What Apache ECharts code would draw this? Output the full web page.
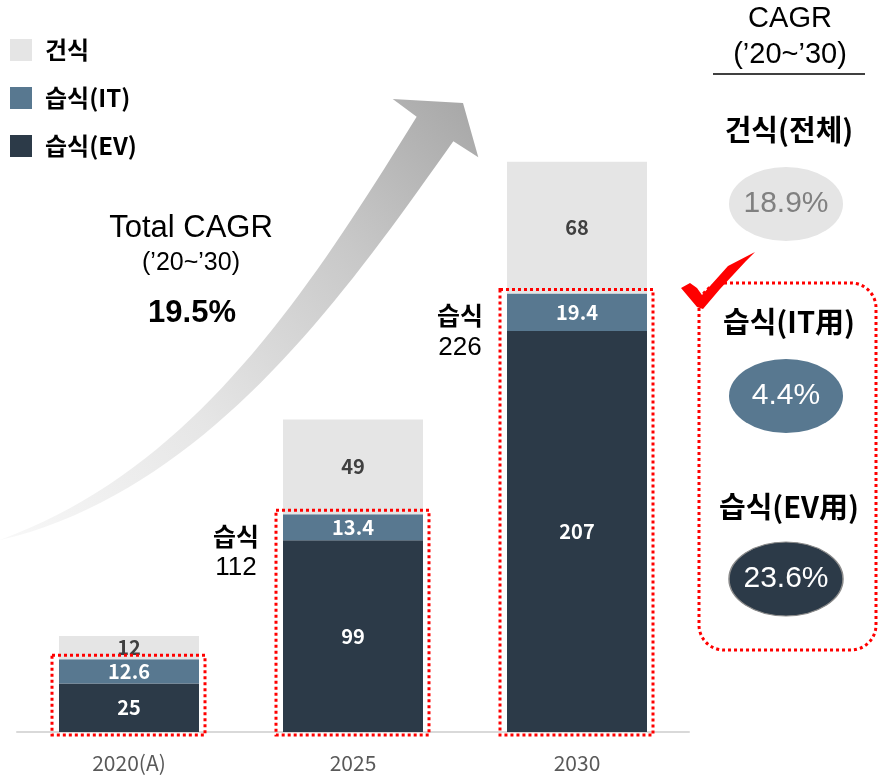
<!DOCTYPE html>
<html>
<head>
<meta charset="utf-8">
<script src="https://cdn.jsdelivr.net/npm/echarts@6/dist/echarts.min.js"></script>
<style>
html, body { margin: 0; padding: 0; background: #fff; }
#chart { width: 878px; height: 775px; }
</style>
</head>
<body>
<div id="chart"></div>
<script>
// 데이터
var categories = ['2020(A)', '2025', '2030'];
var wetEv = [25, 99, 207];
var wetIt = [12.6, 13.4, 19.4];
var dry = [12, 49, 68];
var totals = ['49.5', '161.1', '294.2'];
var wetTotals = ['', '112', '226'];
var cagrNames = ['건식(전체)', '습식(IT用)', '습식(EV用)'];
var cagrValues = ['18.9%', '4.4%', '23.6%'];

var KR = '"Noto Sans CJK KR", sans-serif';
var LAT = '"Liberation Sans", Arial, sans-serif';
var C_DRY = '#e5e5e5', C_IT = '#587890', C_EV = '#2c3a48';

var stackTop = categories.map(function (c, i) { return wetEv[i] + wetIt[i] + dry[i]; });

var chart = echarts.init(document.getElementById('chart'));

function barLabel(color) {
    return {
        show: true, position: 'inside', color: color,
        fontSize: 20, fontWeight: 'bold', fontFamily: KR
    };
}

var option = {
    animation: false,
    legend: {
        orient: 'vertical', left: 5, top: 33, itemWidth: 22, itemHeight: 22, itemGap: 24,
        icon: 'rect', selectedMode: false,
        data: ['건식', '습식(IT)', '습식(EV)'],
        textStyle: { fontSize: 24, fontWeight: 'bold', color: '#000', fontFamily: KR, padding: [0, 0, 0, 8] }
    },
    grid: { left: 17, right: 189, top: 151, bottom: 43 },
    xAxis: {
        type: 'category', data: categories,
        axisLine: { lineStyle: { color: '#d9d9d9', width: 2 } },
        axisTick: { show: false },
        axisLabel: { color: '#595959', fontSize: 21, fontFamily: KR, margin: 21 }
    },
    yAxis: { type: 'value', min: 0, max: 300, show: false, splitLine: { show: false } },
    series: [
        { name: '습식(EV)', type: 'bar', stack: 'a', barWidth: 140, data: wetEv,
          itemStyle: { color: C_EV }, label: barLabel('#fff'), z: 3 },
        { name: '습식(IT)', type: 'bar', stack: 'a', barWidth: 140, data: wetIt,
          itemStyle: { color: C_IT }, label: barLabel('#fff'), z: 3 },
        { name: '건식', type: 'bar', stack: 'a', barWidth: 140, data: dry,
          itemStyle: { color: C_DRY }, label: barLabel('#404040'), z: 3 },
        { name: 'sum', type: 'scatter', data: stackTop, symbolSize: 1, itemStyle: { opacity: 0 }, silent: true,
          label: {
              show: true, position: 'top', distance: 15, color: '#000', fontSize: 31, fontFamily: LAT,
              formatter: function (p) { return 'Σ ' + totals[p.dataIndex]; }
          } }
    ]
};
chart.setOption(option);

// 화살표 (곡선)
function arrowPoints() {
    var P0 = [0, 540], P1 = [200, 480], P2 = [325, 295], P3 = [435, 129];
    var upper = [], lower = [];
    for (var k = 0; k <= 40; k++) {
        var t = k / 40, u = 1 - t;
        var x = u*u*u*P0[0] + 3*u*u*t*P1[0] + 3*u*t*t*P2[0] + t*t*t*P3[0];
        var y = u*u*u*P0[1] + 3*u*u*t*P1[1] + 3*u*t*t*P2[1] + t*t*t*P3[1];
        var dx = 3*u*u*(P1[0]-P0[0]) + 6*u*t*(P2[0]-P1[0]) + 3*t*t*(P3[0]-P2[0]);
        var dy = 3*u*u*(P1[1]-P0[1]) + 6*u*t*(P2[1]-P1[1]) + 3*t*t*(P3[1]-P2[1]);
        var len = Math.sqrt(dx*dx + dy*dy);
        var nx = -dy / len, ny = dx / len;
        var w = 22 * Math.pow(t, 0.8);
        upper.push([x - nx*w, y - ny*w]);
        lower.push([x + nx*w, y + ny*w]);
    }
    var pts = upper.concat([[392.7, 99], [463, 103], [478.3, 157.3]]);
    return pts.concat(lower.reverse());
}

var graphics = [];
graphics.push({
    type: 'polygon', z: 0, silent: true,
    shape: { points: arrowPoints() },
    style: {
        fill: { type: 'linear', x: 0, y: 1, x2: 1, y2: 0, colorStops: [
            { offset: 0, color: '#f8f8f8' }, { offset: 0.35, color: '#e6e6e6' },
            { offset: 0.7, color: '#c8c8c8' }, { offset: 1, color: '#a6a6a6' }] }
    }
});

// Total CAGR 텍스트
graphics.push({ type: 'text', x: 191, y: 228, style: { text: 'Total CAGR', font: '31px ' + LAT, fill: '#000', align: 'center', verticalAlign: 'middle' } });
graphics.push({ type: 'text', x: 191, y: 263, style: { text: '(’20~’30)', font: '25px ' + LAT, fill: '#000', align: 'center', verticalAlign: 'middle' } });
graphics.push({ type: 'text', x: 192, y: 313, style: { text: '19.5%', font: 'bold 31px ' + LAT, fill: '#000', align: 'center', verticalAlign: 'middle',
    shadowColor: 'rgba(0,0,0,0.35)', shadowBlur: 3, shadowOffsetX: 2, shadowOffsetY: 2 } });

// 습식 빨간 점선 박스 및 합계
categories.forEach(function (c, i) {
    var base = chart.convertToPixel({ seriesIndex: 0 }, [i, 0]);
    var itTop = chart.convertToPixel({ seriesIndex: 0 }, [i, wetEv[i] + wetIt[i]]);
    var left = base[0] - 70;
    graphics.push({
        type: 'rect', z: 10, silent: true,
        shape: { x: left - 7, y: itTop[1] - 4, width: 140 + 13, height: base[1] - itTop[1] + 7 },
        style: { fill: 'none', stroke: '#ff0000', lineWidth: 3, lineDash: [3, 3] }
    });
    if (wetTotals[i]) {
        graphics.push({ type: 'text', x: left - 47, y: itTop[1] + 22, style: { text: '습식', font: 'bold 25px ' + KR, fill: '#000', align: 'center', verticalAlign: 'middle' } });
        graphics.push({ type: 'text', x: left - 47, y: itTop[1] + 54, style: { text: wetTotals[i], font: '26px ' + LAT, fill: '#000', align: 'center', verticalAlign: 'middle' } });
    }
});

// 오른쪽 CAGR 패널
graphics.push({ type: 'text', x: 790, y: 19, style: { text: 'CAGR', font: '29px ' + LAT, fill: '#000', align: 'center', verticalAlign: 'middle' } });
graphics.push({ type: 'text', x: 790, y: 55, style: { text: '(’20~’30)', font: '29px ' + LAT, fill: '#000', align: 'center', verticalAlign: 'middle' } });
graphics.push({ type: 'line', shape: { x1: 713, y1: 74, x2: 865, y2: 74 }, style: { stroke: '#404040', lineWidth: 2 } });

var panelNameY = [130, 322, 507];
var panelValY = [204, 396, 579];
var ellFill = ['#e5e5e5', C_IT, C_EV];
var ellText = ['#808080', '#fff', '#fff'];
cagrNames.forEach(function (n, i) {
    graphics.push({ type: 'text', x: 789, y: panelNameY[i], style: { text: n, font: 'bold 29px ' + KR, fill: '#000', align: 'center', verticalAlign: 'middle' } });
    graphics.push({ type: 'circle', x: 786, y: panelValY[i], scaleX: 57 / 37, scaleY: 1,
        shape: { cx: 0, cy: 0, r: 37 },
        style: { fill: ellFill[i], stroke: i === 2 ? '#8a8a8a' : 'none', lineWidth: 1 } });
    graphics.push({ type: 'text', x: 786, y: panelValY[i], style: { text: cagrValues[i], font: '30px ' + LAT, fill: ellText[i], align: 'center', verticalAlign: 'middle' } });
});

graphics.push({
    type: 'rect', silent: true,
    shape: { x: 699, y: 283, width: 177, height: 367, r: 25 },
    style: { fill: 'none', stroke: '#ff0000', lineWidth: 3, lineDash: [3, 3] }
});

// 체크 표시
graphics.push({
    type: 'polygon', z: 20,
    shape: { points: [[681, 288], [690, 283], [697, 288], [702, 295], [728, 266], [755, 252],
                      [746, 261], [720, 289], [703, 309], [697, 307]] },
    style: { fill: '#ff0000' }
});

chart.setOption({ graphic: graphics });
</script>
</body>
</html>
